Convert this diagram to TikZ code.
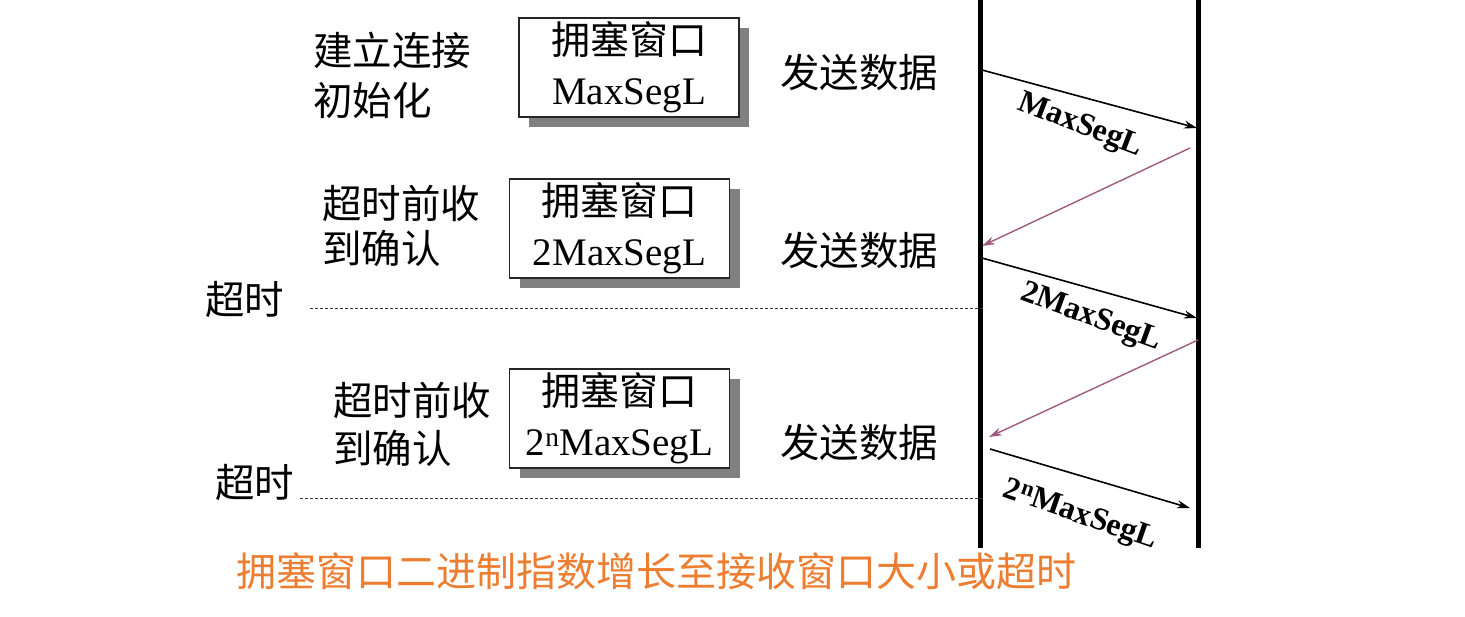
\documentclass[tikz,border=0pt]{standalone}
\usepackage{fontspec}
\setmainfont{Liberation Serif}
\newfontfamily\cjk{Noto Sans CJK SC}
\usetikzlibrary{arrows.meta,shadows}
\definecolor{ackc}{RGB}{160,90,125}
\definecolor{orangec}{RGB}{237,125,49}
\begin{document}
\begin{tikzpicture}[x=1pt,y=-1pt,
  lbl/.style={font=\cjk\fontsize{39.5}{46}\selectfont, inner sep=0pt, anchor=west},
  winbox/.style={draw=black!85, line width=1.2pt, fill=white, minimum width=220pt, minimum height=99pt,
     inner sep=0pt, align=center, font=\fontsize{39}{50}\selectfont,
     drop shadow={shadow xshift=10pt, shadow yshift=-10pt, fill=black!50, opacity=1}},
  seg/.style={line width=1.6pt, -{Stealth[length=13pt,width=8pt]}},
  ack/.style={line width=1.4pt, ackc, -{Stealth[length=13pt,width=8pt]}},
  seglbl/.style={font=\bfseries\fontsize{32}{34}\selectfont, inner sep=0pt},
  tline/.style={line width=5pt},
  toline/.style={line width=0.8pt, dash pattern=on 3pt off 2pt, black!80}]
\useasboundingbox (0,0) rectangle (1465,617);
% time lines
\coordinate (LT) at (980,0); \coordinate (LB) at (980,548);
\coordinate (RT) at (1198,0); \coordinate (RB) at (1198,548);
\draw[tline] (LT) -- (LB);
\draw[tline] (RT) -- (RB);
% left labels
\node[lbl] (s1a) at (313,50) {建立连接};
\node[lbl] (s1b) at (313,100) {初始化};
\node[lbl] (s2a) at (322,203) {超时前收};
\node[lbl] (s2b) at (322,248) {到确认};
\node[lbl] (s3a) at (333,400) {超时前收};
\node[lbl] (s3b) at (333,448) {到确认};
\node[lbl] (to1) at (205,300) {超时};
\node[lbl] (to2) at (215,483) {超时};
% boxes
\node[winbox] (b1) at (629,67.5) {{\cjk 拥塞窗口}\\MaxSegL};
\node[winbox] (b2) at (619.5,228.5) {{\cjk 拥塞窗口}\\2MaxSegL};
\node[winbox] (b3) at (619.5,418.5) {{\cjk 拥塞窗口}\\2\textsuperscript{n}MaxSegL};
% send labels
\node[lbl] (d1) at (780,72) {发送数据};
\node[lbl] (d2) at (780,250) {发送数据};
\node[lbl] (d3) at (780,442) {发送数据};
% timeout lines
\coordinate (t1s) at (310,308); \coordinate (t1e) at (985,308);
\coordinate (t2s) at (300,498); \coordinate (t2e) at (985,498);
\draw[toline] (t1s) -- (t1e);
\draw[toline] (t2s) -- (t2e);
% arrows
\coordinate (a1s) at (982,70);   \coordinate (a1e) at (1197,128);
\coordinate (p1s) at (1190,148); \coordinate (p1e) at (982,246);
\coordinate (a2s) at (982,258);  \coordinate (a2e) at (1197,318);
\coordinate (p2s) at (1198,340); \coordinate (p2e) at (989,437);
\coordinate (a3s) at (990,449);  \coordinate (a3e) at (1190,508);
\draw[seg] (a1s) -- (a1e);
\draw[ack] (p1s) -- (p1e);
\draw[seg] (a2s) -- (a2e);
\draw[ack] (p2s) -- (p2e);
\draw[seg] (a3s) -- (a3e);
\node[seglbl, rotate=-21] (m1) at (1080,126) {MaxSegL};
\node[seglbl, rotate=-20] (m2) at (1091,318) {2MaxSegL};
\node[seglbl, rotate=-19] (m3) at (1080,516) {2\textsuperscript{n}MaxSegL};
% caption
\node[font=\cjk\fontsize{40}{46}\selectfont, text=orangec, inner sep=0pt] (cap) at (656,571) {拥塞窗口二进制指数增长至接收窗口大小或超时};
\end{tikzpicture}
\end{document}
